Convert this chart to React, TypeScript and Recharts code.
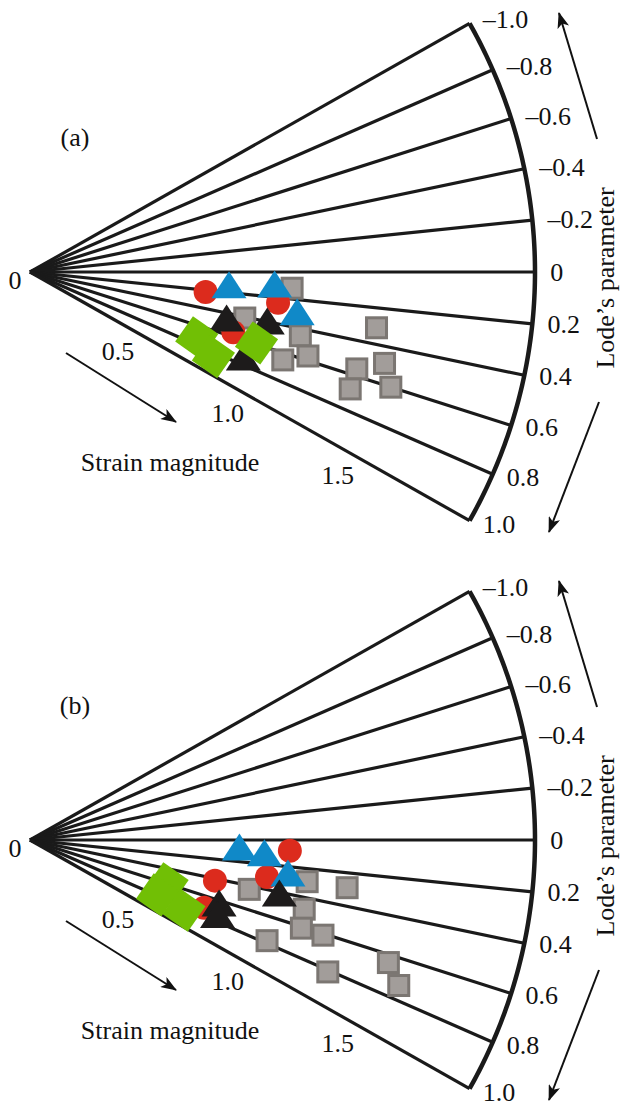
import React from "react";
import { Scatter, ScatterChart, XAxis, YAxis } from "recharts";

// fan geometry: one strain unit in pixels, origin of the fan inside each panel
const PX_PER_UNIT = 252.5;
const ORIGIN_X = 30;
const ORIGIN_Y = 272;
const FAN_RADIUS = 2.0;
const LABEL_RADIUS = 2.06;
const HALF_SPAN_DEG = 29.5;
const CHART_WIDTH = 621;
const FONT = "Liberation Serif, DejaVu Serif, serif";
const textStyle = { fontFamily: FONT, fontSize: 26 };

const lodeTicks = [-1.0, -0.8, -0.6, -0.4, -0.2, 0, 0.2, 0.4, 0.6, 0.8, 1.0];
const lodeTickLabels = ["–1.0", "–0.8", "–0.6", "–0.4", "–0.2", "0", "0.2", "0.4", "0.6", "0.8", "1.0"];
const strainTicks = [0, 0.5, 1.0, 1.5];
const strainTickLabels = ["0", "0.5", "1.0", "1.5"];

// (a)
const aSquares = [
  { lode: 0.12, strain: 1.04 },
  { lode: 0.41, strain: 0.87 },
  { lode: 0.45, strain: 1.1 },
  { lode: 0.65, strain: 1.06 },
  { lode: 0.57, strain: 1.15 },
  { lode: 0.31, strain: 1.39 },
  { lode: 0.56, strain: 1.35 },
  { lode: 0.49, strain: 1.45 },
  { lode: 0.68, strain: 1.35 },
  { lode: 0.6, strain: 1.5 },
];
const aCircles = [
  { lode: 0.22, strain: 0.7 },
  { lode: 0.24, strain: 0.99 },
  { lode: 0.56, strain: 0.84 },
];
const aBlueTriangles = [
  { lode: 0.13, strain: 0.79 },
  { lode: 0.1, strain: 0.97 },
  { lode: 0.29, strain: 1.07 },
];
const aBlackTriangles = [
  { lode: 0.45, strain: 0.8 },
  { lode: 0.4, strain: 0.96 },
  { lode: 0.74, strain: 0.91 },
];
const aGreenSquares = [
  { lode: 0.73, strain: 0.71 },
  { lode: 0.84, strain: 0.8 },
  { lode: 0.59, strain: 0.94 },
];

// (b)
const bSquares = [
  { lode: 0.43, strain: 0.89 },
  { lode: 0.29, strain: 1.11 },
  { lode: 0.29, strain: 1.27 },
  { lode: 0.48, strain: 1.12 },
  { lode: 0.61, strain: 1.13 },
  { lode: 0.61, strain: 1.22 },
  { lode: 0.78, strain: 1.02 },
  { lode: 0.81, strain: 1.29 },
  { lode: 0.64, strain: 1.5 },
  { lode: 0.73, strain: 1.57 },
];
const bCircles = [
  { lode: 0.08, strain: 1.03 },
  { lode: 0.3, strain: 0.95 },
  { lode: 0.42, strain: 0.75 },
  { lode: 0.72, strain: 0.74 },
];
const bBlueTriangles = [
  { lode: 0.07, strain: 0.83 },
  { lode: 0.11, strain: 0.93 },
  { lode: 0.25, strain: 1.03 },
];
const bBlackTriangles = [
  { lode: 0.41, strain: 1.01 },
  { lode: 0.63, strain: 0.79 },
  { lode: 0.74, strain: 0.8 },
];
const bGreenSquares = [
  { lode: 0.6, strain: 0.57 },
  { lode: 0.79, strain: 0.55 },
  { lode: 0.83, strain: 0.67 },
];

type Pt = { lode: number; strain: number };

// Lode's parameter maps linearly to the ray angle: -1 points up, 1 points down
const toXY = (lode: number, strain: number) => {
  const a = (-lode * HALF_SPAN_DEG * Math.PI) / 180;
  return { x: strain * Math.cos(a), y: strain * Math.sin(a) };
};
const toData = (pts: Pt[]) => pts.map((p) => toXY(p.lode, p.strain));

const arcData: { x: number; y: number }[] = [];
for (let i = 0; i <= 100; i++) arcData.push(toXY(-1 + i * 0.02, FAN_RADIUS));

const lodeLabelData = lodeTicks.map((v, i) => ({ ...toXY(v, LABEL_RADIUS), label: lodeTickLabels[i], value: v }));
const strainLabelData = strainTicks.map((v, i) => ({ ...toXY(1, v), label: strainTickLabels[i], value: v }));
const originLabelData = [{ ...toXY(0, 0), label: strainTickLabels[0] }];

const none = () => <g />;

const RedCircle = (p: any) => <circle cx={p.cx} cy={p.cy} r={12} fill="#dc2b1d" />;

const triangle = (fill: string) => (p: any) => (
  <polygon points={`${p.cx},${p.cy - 14} ${p.cx + 17.5},${p.cy + 13} ${p.cx - 17.5},${p.cy + 13}`} fill={fill} />
);
const BlueTriangle = triangle("#1089c8");
const BlackTriangle = triangle("#1d1b1b");

const GraySquare = (p: any) => (
  <rect x={p.cx - 10} y={p.cy - 10} width={20} height={20} fill="#a29d9a" stroke="#7b7672" strokeWidth={3} />
);

const GreenSquare = (p: any) => (
  <rect
    x={p.cx - 15.5}
    y={p.cy - 15.5}
    width={31}
    height={31}
    fill="#71bf05"
    transform={`rotate(35 ${p.cx} ${p.cy})`}
  />
);

// tick labels sit just outside the arc, nudged a little toward the middle ray
const LodeLabel = (p: any) => (
  <text
    x={p.cx}
    y={p.cy - 4 * p.payload.value}
    style={textStyle}
    fill="#111"
    textAnchor="start"
    dominantBaseline="central"
  >
    {p.payload.label}
  </text>
);

const StrainLabel = (p: any) =>
  p.payload.value === 0 ? (
    <g />
  ) : (
    <text x={p.cx - 22} y={p.cy + 17} style={textStyle} fill="#111" textAnchor="middle" dominantBaseline="central">
      {p.payload.label}
    </text>
  );

const OriginLabel = (p: any) => (
  <text x={p.cx - 15} y={p.cy + 8} style={textStyle} fill="#111" textAnchor="middle" dominantBaseline="central">
    {p.payload.label}
  </text>
);

type PanelProps = {
  height: number;
  squares: Pt[];
  circles: Pt[];
  blue: Pt[];
  black: Pt[];
  green: Pt[];
};

function FanPanel({ height, squares, circles, blue, black, green }: PanelProps) {
  const xDomain = [-ORIGIN_X / PX_PER_UNIT, (CHART_WIDTH - ORIGIN_X) / PX_PER_UNIT];
  const yDomain = [(ORIGIN_Y - height) / PX_PER_UNIT, ORIGIN_Y / PX_PER_UNIT];
  return (
    <ScatterChart width={CHART_WIDTH} height={height} margin={{ top: 0, right: 0, bottom: 0, left: 0 }}>
      <XAxis type="number" dataKey="x" domain={xDomain} allowDataOverflow hide />
      <YAxis type="number" dataKey="y" domain={yDomain} allowDataOverflow hide />
      {lodeTicks.map((v) => (
        <Scatter
          key={v}
          data={[toXY(v, 0), toXY(v, FAN_RADIUS)]}
          line={{ stroke: "#1a1a1a", strokeWidth: 3.2 }}
          shape={none}
          isAnimationActive={false}
        />
      ))}
      <Scatter data={arcData} line={{ stroke: "#1a1a1a", strokeWidth: 4.5 }} shape={none} isAnimationActive={false} />
      <Scatter data={lodeLabelData} shape={LodeLabel} isAnimationActive={false} />
      <Scatter data={strainLabelData} shape={StrainLabel} isAnimationActive={false} />
      <Scatter data={originLabelData} shape={OriginLabel} isAnimationActive={false} />
      <Scatter data={toData(squares)} shape={GraySquare} isAnimationActive={false} />
      <Scatter data={toData(circles)} shape={RedCircle} isAnimationActive={false} />
      <Scatter data={toData(blue)} shape={BlueTriangle} isAnimationActive={false} />
      <Scatter data={toData(black)} shape={BlackTriangle} isAnimationActive={false} />
      <Scatter data={toData(green)} shape={GreenSquare} isAnimationActive={false} />
    </ScatterChart>
  );
}

// panel letter, axis titles and direction arrows
function Annotations({ top, letter }: { top: number; letter: string }) {
  const id = `head-${letter}`;
  return (
    <svg
      width={CHART_WIDTH}
      height={568}
      style={{ position: "absolute", left: 0, top, pointerEvents: "none", overflow: "visible" }}
    >
      <defs>
        <marker id={id} viewBox="0 0 16 12" refX={15} refY={6} markerWidth={16} markerHeight={12} markerUnits="userSpaceOnUse" orient="auto">
          <path d="M0,0 L16,6 L0,12 L4,6 Z" fill="#111" />
        </marker>
      </defs>
      <text x={75} y={137} style={textStyle} fill="#111" textAnchor="middle" dominantBaseline="central">
        ({letter})
      </text>
      <text x={170} y={462} style={textStyle} fill="#111" textAnchor="middle" dominantBaseline="central">
        Strain magnitude
      </text>
      <text
        x={605}
        y={278}
        style={textStyle}
        fill="#111"
        textAnchor="middle"
        dominantBaseline="central"
        transform="rotate(-90 605 278)"
      >
        Lode’s parameter
      </text>
      <line x1={66} y1={353} x2={176} y2={422} stroke="#111" strokeWidth={2} markerEnd={`url(#${id})`} />
      <line x1={597} y1={139} x2={559} y2={13} stroke="#111" strokeWidth={2} markerEnd={`url(#${id})`} />
      <line x1={599} y1={402} x2={549} y2={532} stroke="#111" strokeWidth={2} markerEnd={`url(#${id})`} />
    </svg>
  );
}

export default function App() {
  return (
    <div style={{ position: "absolute", left: 0, top: 0, width: 621, height: 1105, overflow: "hidden", background: "#fff" }}>
      <div style={{ position: "absolute", left: 0, top: 0 }}>
        <FanPanel height={568} squares={aSquares} circles={aCircles} blue={aBlueTriangles} black={aBlackTriangles} green={aGreenSquares} />
      </div>
      <div style={{ position: "absolute", left: 0, top: 568 }}>
        <FanPanel height={537} squares={bSquares} circles={bCircles} blue={bBlueTriangles} black={bBlackTriangles} green={bGreenSquares} />
      </div>
      <Annotations top={0} letter="a" />
      <Annotations top={568} letter="b" />
    </div>
  );
}
